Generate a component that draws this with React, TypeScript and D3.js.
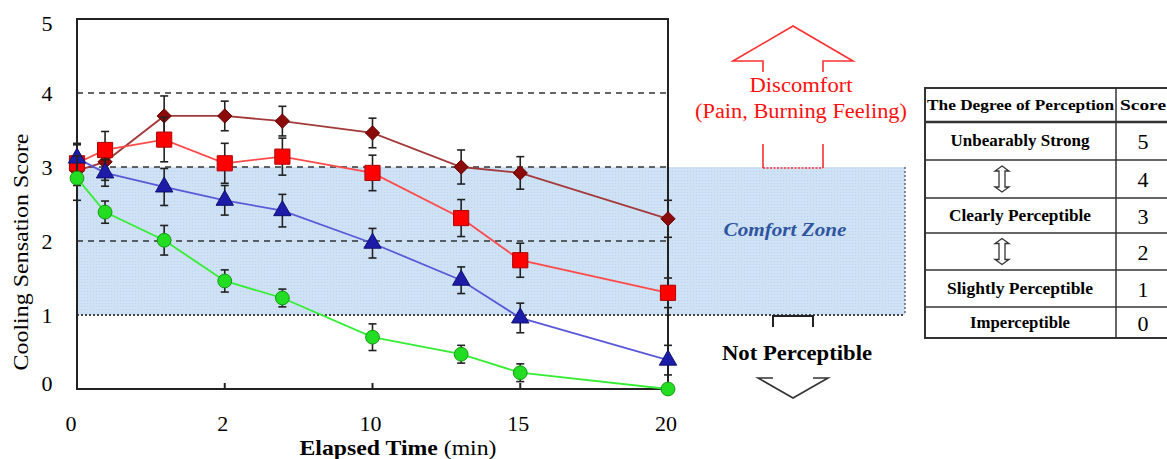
import React from "react";
import * as d3 from "d3";

// x positions are in axis units (one unit per labelled tick)
const xPos = [0, 0.19, 0.59, 1, 1.39, 2, 2.6, 3, 4];
const xTickPos = [0, 1, 2, 3, 4];
const xTickLabels = ["0", "2", "10", "15", "20"];
const yTicks = [0, 1, 2, 3, 4, 5];

const diamondVals = [2.95, 3.07, 3.69, 3.69, 3.62, 3.46, 3.0, 2.92, 2.3];
const diamondErr = [0.2, 0.25, 0.27, 0.2, 0.2, 0.2, 0.23, 0.22, 0.25];
const squareVals = [3.05, 3.23, 3.37, 3.05, 3.14, 2.92, 2.31, 1.74, 1.3];
const squareErr = [0.25, 0.25, 0.3, 0.27, 0.25, 0.24, 0.25, 0.23, 0.2];
const triangleVals = [3.12, 2.92, 2.73, 2.55, 2.41, 1.97, 1.47, 0.96, 0.39];
const triangleErr = [0.2, 0.18, 0.25, 0.2, 0.22, 0.2, 0.18, 0.2, 0.2];
const circleVals = [2.85, 2.39, 2.01, 1.46, 1.23, 0.7, 0.47, 0.22, 0.0];
const circleErr = [0.3, 0.15, 0.2, 0.15, 0.12, 0.18, 0.12, 0.12, 0];

const perceptionLabels = [
  "Unbearably Strong",
  "",
  "Clearly Perceptible",
  "",
  "Slightly Perceptible",
  "Imperceptible",
];
const perceptionScores = ["5", "4", "3", "2", "1", "0"];

const serif =
  "'Liberation Serif', Tinos, 'Noto Serif', 'Times New Roman', Times, FreeSerif, 'DejaVu Serif', serif";

const W = 1167;
const H = 459;
const x = d3.scaleLinear().domain([0, 4]).range([77, 668]);
const y = d3.scaleLinear().domain([0, 5]).range([389, 19]);

const series = [
  { vals: diamondVals, err: diamondErr, line: "#a33a3a", fill: "#8b0a0a", stroke: "#6b0000", sym: d3.symbolDiamond2, size: 130 },
  { vals: squareVals, err: squareErr, line: "#ff4a4a", fill: "#ff0000", stroke: "#b00000", sym: d3.symbolSquare, size: 230 },
  { vals: triangleVals, err: triangleErr, line: "#5a5ad8", fill: "#1c1ca8", stroke: "#101070", sym: d3.symbolTriangle, size: 130 },
  { vals: circleVals, err: circleErr, line: "#33ee33", fill: "#22dd22", stroke: "#139913", sym: d3.symbolCircle, size: 150 },
];

const rowEdges = [122, 160, 198, 233, 270, 307, 338];
const labelWidths = [139, 0, 142, 0, 146, 100];

function dblArrow(cx: number, cy: number) {
  const h = 13, s = 3, hw = 7, hh = 5;
  return `M${cx - s},${cy - h + hh} L${cx - hw},${cy - h + hh} L${cx},${cy - h} L${cx + hw},${cy - h + hh} L${cx + s},${cy - h + hh}
    L${cx + s},${cy + h - hh} L${cx + hw},${cy + h - hh} L${cx},${cy + h} L${cx - hw},${cy + h - hh} L${cx - s},${cy + h - hh} Z`;
}

const fit = { lengthAdjust: "spacingAndGlyphs" as const };

export default function App() {
  const line = d3.line<number>().x((_, i) => x(xPos[i])).y((d) => y(d));

  return (
    <svg width={W} height={H} style={{ position: "absolute", left: 0, top: 0, background: "#fff" }}>
      <defs>
        <pattern id="hatch" width="3" height="3" patternUnits="userSpaceOnUse">
          <rect width="3" height="3" fill="#cfe1f4" />
          <rect width="1" height="1" fill="#bcd4ee" />
        </pattern>
      </defs>

      {/* comfort zone */}
      <rect x={x(0)} y={y(3)} width={905 - x(0)} height={y(1) - y(3)} fill="url(#hatch)" />
      <path d={`M905,${y(3)} L905,${y(1)}`} stroke="#666" strokeWidth={1.5} strokeDasharray="2,2" />

      {/* reference lines */}
      {[4, 3, 2].map((v) => (
        <line key={v} x1={x(0)} x2={x(4)} y1={y(v)} y2={y(v)} stroke="#333" strokeWidth={1.5} strokeDasharray="6,5" />
      ))}
      <line x1={x(0)} x2={905} y1={y(1)} y2={y(1)} stroke="#444" strokeWidth={2} strokeDasharray="2,2" />

      {/* frame */}
      <rect x={x(0)} y={y(5)} width={x(4) - x(0)} height={y(0) - y(5)} fill="none" stroke="#222" strokeWidth={2} />
      {xTickPos.slice(1, 4).map((t) => (
        <line key={t} x1={x(t)} x2={x(t)} y1={y(0)} y2={y(0) - 6} stroke="#222" strokeWidth={2} />
      ))}

      {/* series */}
      {series.map((s, si) => (
        <g key={si}>
          <path d={line(s.vals) || ""} fill="none" stroke={s.line} strokeWidth={1.8} />
          {s.vals.map((v, i) =>
            s.err[i] > 0 ? (
              <g key={i} stroke="#222" strokeWidth={1.6}>
                <line x1={x(xPos[i])} x2={x(xPos[i])} y1={y(v + s.err[i])} y2={y(v - s.err[i])} />
                <line x1={x(xPos[i]) - 4} x2={x(xPos[i]) + 4} y1={y(v + s.err[i])} y2={y(v + s.err[i])} />
                <line x1={x(xPos[i]) - 4} x2={x(xPos[i]) + 4} y1={y(v - s.err[i])} y2={y(v - s.err[i])} />
              </g>
            ) : null
          )}
          {s.vals.map((v, i) => (
            <path
              key={"m" + i}
              d={d3.symbol().type(s.sym).size(s.size)() || ""}
              transform={`translate(${x(xPos[i])},${y(v)})`}
              fill={s.fill}
              stroke={s.stroke}
              strokeWidth={1}
            />
          ))}
        </g>
      ))}

      <g style={{ fontFamily: serif }}>
        {/* axes labels */}
        {yTicks.map((t) => (
          <text key={t} x={47} y={y(t)} dy={t === 5 ? 12 : t === 0 ? 2 : 8} textAnchor="middle" fontSize={22}>
            {t}
          </text>
        ))}
        {xTickPos.map((t, i) => (
          <text key={t} x={x(t) - (i === 0 ? 6 : 2)} y={431} textAnchor="middle" fontSize={22}>
            {xTickLabels[i]}
          </text>
        ))}
        <text transform="translate(28,252) rotate(-90)" textAnchor="middle" fontSize={21} textLength={237} {...fit}>
          Cooling Sensation Score
        </text>
        <text x={398} y={455} textAnchor="middle" fontSize={21} textLength={197} {...fit}>
          <tspan fontWeight="bold">Elapsed Time</tspan> (min)
        </text>

        {/* discomfort arrow */}
        <g stroke="#ff3030" strokeWidth={1.6} fill="none">
          <path d="M763,72 L763,61 L733,61 L793,26 L853,61 L823,61 L823,72" />
          <path d="M763,144 L763,168 M823,144 L823,168" />
          <path d="M763,168 L823,168" strokeDasharray="2,1.5" />
        </g>
        <text x={801} y={92} textAnchor="middle" fontSize={20} fill="#ff1010" textLength={103} {...fit}>Discomfort</text>
        <text x={801} y={118} textAnchor="middle" fontSize={20} fill="#ff1010" textLength={212} {...fit}>(Pain, Burning Feeling)</text>

        <text x={785} y={236} textAnchor="middle" fontSize={19} fontStyle="italic" fontWeight="bold" fill="#2f55a0" textLength={123} {...fit}>
          Comfort Zone
        </text>

        {/* not perceptible arrow */}
        <path d="M773,327 L773,316 L813,316 L813,327" stroke="#222" strokeWidth={2} fill="none" />
        <text x={797} y={360} textAnchor="middle" fontSize={21} fontWeight="bold" textLength={150} {...fit}>Not Perceptible</text>
        <path d="M773,378 L758,378 L793,398 L828,378 L813,378" stroke="#333" strokeWidth={1.6} fill="none" />

        {/* perception table */}
        <g stroke="#333" fill="none">
          <rect x={925} y={88} width={260} height={250} strokeWidth={2} />
          <line x1={1116} x2={1116} y1={88} y2={338} strokeWidth={1.5} />
          {rowEdges.slice(0, -1).map((r) => (
            <line key={r} x1={925} x2={1167} y1={r} y2={r} strokeWidth={r === 122 ? 2.5 : 1.5} />
          ))}
        </g>
        <text x={1020.5} y={110} textAnchor="middle" fontSize={15} fontWeight="bold" textLength={187} {...fit}>The Degree of Perception</text>
        <text x={1120} y={110} fontSize={15} fontWeight="bold" textLength={46} {...fit}>Score</text>
        {perceptionLabels.map((lab, i) => {
          const cy = (rowEdges[i] + rowEdges[i + 1]) / 2;
          return (
            <g key={i}>
              {lab ? (
                <text x={1020} y={cy + 5} textAnchor="middle" fontSize={16} fontWeight="bold" textLength={labelWidths[i]} {...fit}>{lab}</text>
              ) : (
                <path d={dblArrow(1002, cy)} fill="#fff" stroke="#333" strokeWidth={1.3} />
              )}
              <text x={1143} y={cy + 8} textAnchor="middle" fontSize={22}>{perceptionScores[i]}</text>
            </g>
          );
        })}
      </g>
    </svg>
  );
}
